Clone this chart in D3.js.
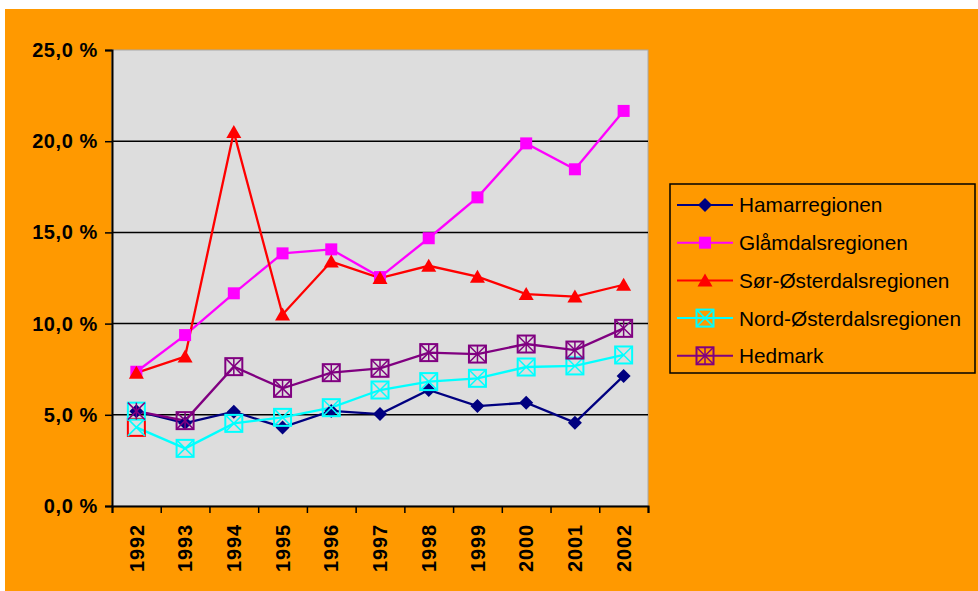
<!DOCTYPE html>
<html>
<head>
<meta charset="utf-8">
<script src="https://cdn.jsdelivr.net/npm/d3@7"></script>
<style>
  body { margin: 0; background: #fff; }
  svg { display: block; }
</style>
</head>
<body>
<svg id="chart" width="978" height="591"></svg>
<script>
// years on the x axis
const years = ['1992', '1993', '1994', '1995', '1996', '1997', '1998', '1999', '2000', '2001', '2002']
const yTicks = [0, 5, 10, 15, 20, 25]

// percent values per region
const hamar   = [5.2, 4.55, 5.17, 4.31, 5.21, 5.04, 6.36, 5.48, 5.66, 4.57, 7.13]
const glamdal = [7.36, 9.37, 11.66, 13.85, 14.07, 12.55, 14.68, 16.92, 19.88, 18.46, 21.66]
const sorOst  = [7.3, 8.19, 20.5, 10.5, 13.4, 12.5, 13.17, 12.57, 11.62, 11.48, 12.13]
const nordOst = [4.31, 3.16, 4.53, 4.86, 5.39, 6.36, 6.82, 7.0, 7.62, 7.68, 8.28]
const hedmark = [5.2, 4.68, 7.64, 6.45, 7.31, 7.55, 8.41, 8.33, 8.88, 8.55, 9.74]

const seriesNames = ['Hamarregionen', 'Glåmdalsregionen', 'Sør-Østerdalsregionen', 'Nord-Østerdalsregionen', 'Hedmark']
const seriesValues = [hamar, glamdal, sorOst, nordOst, hedmark]

const colors = ['#000080', '#FF00FF', '#FF0000', '#00FFFF', '#800080']
const markers = ['diamond', 'square', 'triangle', 'xbox', 'starbox']
// single points that Excel drew with a different marker border
const pointStroke = { 3: { 0: '#FF0000' }, 4: { 0: '#00FFFF' } }

const svg = d3.select('#chart')
const bg = '#FF9900'

// outer background (white strip on top and left)
svg.append('rect').attr('x', 5).attr('y', 9).attr('width', 973).attr('height', 582).attr('fill', bg)

let dims = { left: 112, right: 648, top: 50, bottom: 506 }

let xScale = d3.scaleBand()
  .domain(years)
  .range([dims.left, dims.right])
  .padding(0)
let xTickScale = d3.scaleLinear()
  .domain([0, years.length])
  .range([dims.left, dims.right])
let yScale = d3.scaleLinear()
  .domain([0, 25])
  .range([dims.bottom, dims.top])

let xPos = (i) => xScale(years[i]) + xScale.bandwidth() / 2

// plot area
svg.append('rect')
  .attr('x', dims.left).attr('y', dims.top)
  .attr('width', dims.right - dims.left).attr('height', dims.bottom - dims.top)
  .attr('fill', '#DDDDDD')
  .attr('stroke', '#A8A8A8').attr('stroke-width', 1)

// gridlines
svg.append('g')
  .selectAll('line')
  .data(yTicks.filter(d => d > 0 && d < 25))
  .enter()
  .append('line')
  .attr('x1', dims.left).attr('x2', dims.right)
  .attr('y1', d => yScale(d)).attr('y2', d => yScale(d))
  .attr('stroke', '#000').attr('stroke-width', 1.5)

// y axis
let yAxis = svg.append('g')
  .attr('transform', `translate(${dims.left},0)`)
  .call(d3.axisLeft(yScale).tickValues(yTicks).tickSize(7).tickPadding(7)
    .tickFormat(d => d3.format('.1f')(d).replace('.', ',') + ' %'))
yAxis.select('.domain').attr('stroke', '#000').attr('stroke-width', 2)
yAxis.selectAll('.tick line').attr('stroke', '#000').attr('stroke-width', 1.5)
yAxis.selectAll('text')
  .attr('fill', '#000')
  .style('font-family', 'Liberation Sans, Arial, sans-serif')
  .style('font-weight', 'bold')
  .style('font-size', '20px')
  .style('letter-spacing', '0.6px')

// x axis: tick marks between categories
let xAxis = svg.append('g')
  .attr('transform', `translate(0,${dims.bottom})`)
  .call(d3.axisBottom(xTickScale).ticks(years.length).tickSize(7).tickFormat(''))
xAxis.select('.domain').attr('stroke', '#000').attr('stroke-width', 2)
xAxis.selectAll('.tick line').attr('stroke', '#000').attr('stroke-width', 1.5)

// x labels, rotated
svg.append('g')
  .selectAll('text')
  .data(years)
  .enter()
  .append('text')
  .attr('transform', (d, i) => `translate(${xPos(i)},524) rotate(-90)`)
  .attr('dy', '0.36em')
  .attr('text-anchor', 'end')
  .style('font-family', 'Liberation Sans, Arial, sans-serif')
  .style('font-weight', 'bold')
  .style('font-size', '20px')
  .style('letter-spacing', '0.9px')
  .attr('fill', '#000')
  .text(d => d)

// marker drawing
function drawMarker(g, type, color, stroke) {
  if (type == 'diamond') {
    g.append('path').attr('d', 'M0,-7L7,0L0,7L-7,0Z').attr('fill', color)
  } else if (type == 'square') {
    g.append('rect').attr('x', -6).attr('y', -6).attr('width', 12).attr('height', 12).attr('fill', color)
  } else if (type == 'triangle') {
    g.append('path').attr('d', 'M0,-7L7.5,6L-7.5,6Z').attr('fill', color)
  } else {
    let s = 8.5
    g.append('rect').attr('x', -s).attr('y', -s).attr('width', 2 * s).attr('height', 2 * s)
      .attr('fill', 'none').attr('stroke', stroke || color).attr('stroke-width', 2)
    g.append('path').attr('d', `M${-s},${-s}L${s},${s}M${s},${-s}L${-s},${s}`)
      .attr('stroke', color).attr('stroke-width', 1.5)
    if (type == 'starbox') {
      g.append('path').attr('d', `M0,${-s}L0,${s}`).attr('stroke', color).attr('stroke-width', 1.5)
    }
  }
}

let line = d3.line()
  .x((d, i) => xPos(i))
  .y(d => yScale(d))

// lines
seriesValues.forEach((vals, k) => {
  svg.append('path')
    .datum(vals)
    .attr('d', line)
    .attr('fill', 'none')
    .attr('stroke', colors[k])
    .attr('stroke-width', 2.3)
})

// markers
seriesValues.forEach((vals, k) => {
  vals.forEach((v, i) => {
    let g = svg.append('g').attr('transform', `translate(${xPos(i)},${yScale(v)})`)
    let over = pointStroke[k] && pointStroke[k][i]
    drawMarker(g, markers[k], colors[k], over)
  })
})

// legend
let legend = svg.append('g')
legend.append('rect')
  .attr('x', 670).attr('y', 184).attr('width', 305).attr('height', 189)
  .attr('fill', bg).attr('stroke', '#000').attr('stroke-width', 1.5)

seriesNames.forEach((name, k) => {
  let y = 205 + k * 37.7
  legend.append('line')
    .attr('x1', 677).attr('x2', 733).attr('y1', y).attr('y2', y)
    .attr('stroke', colors[k]).attr('stroke-width', 2)
  let g = legend.append('g').attr('transform', `translate(705,${y})`)
  drawMarker(g, markers[k], colors[k])
  legend.append('text')
    .attr('x', 739).attr('y', y)
    .attr('dy', '0.36em')
    .style('font-family', 'Liberation Sans, Arial, sans-serif')
    .style('font-size', '20.8px')
    .attr('fill', '#000')
    .text(name)
})
</script>
</body>
</html>
